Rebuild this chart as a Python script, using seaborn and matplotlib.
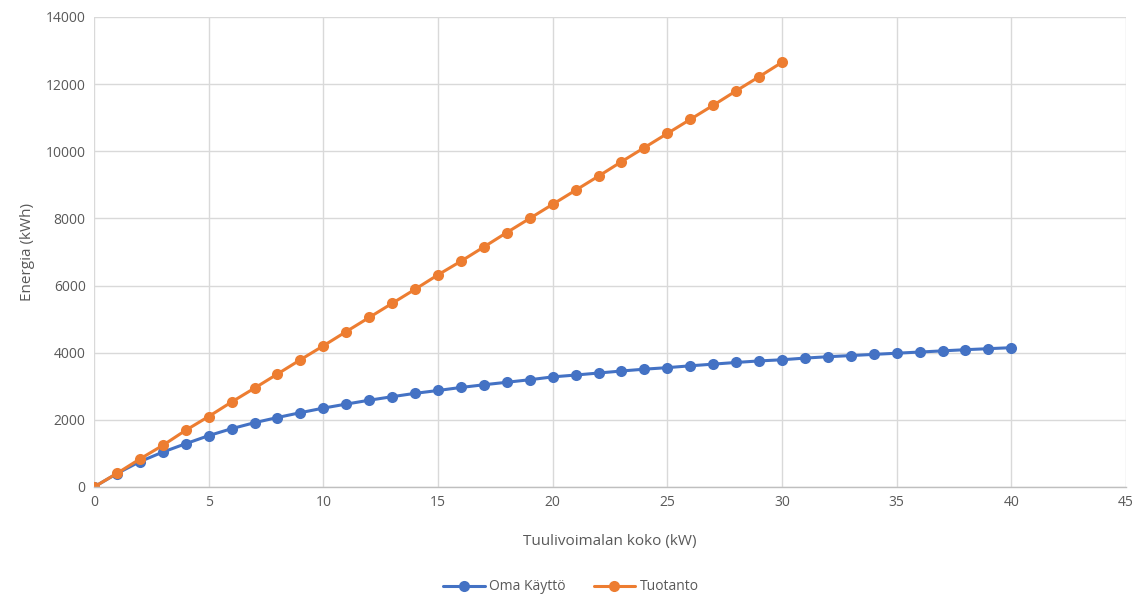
import numpy as np
import pandas as pd
import matplotlib
matplotlib.use("Agg")
import matplotlib.pyplot as plt
import seaborn as sns

# Data
oma_x = list(range(0, 41))
oma_kaytto = [0, 400, 755, 1040, 1290, 1530, 1737, 1916, 2070, 2214, 2350,
              2470, 2585, 2690, 2790, 2875, 2965, 3045, 3120, 3195, 3280,
              3335, 3395, 3455, 3510, 3555, 3610, 3660, 3710, 3755, 3790,
              3840, 3880, 3915, 3950, 3985, 4020, 4055, 4090, 4120, 4150]
tuot_x = list(range(0, 31))
tuotanto = [0, 405, 834, 1240, 1690, 2100, 2532, 2945, 3366, 3790, 4205,
            4630, 5050, 5470, 5890, 6320, 6725, 7150, 7580, 8000, 8420,
            8840, 9260, 9690, 10110, 10530, 10950, 11370, 11800, 12220, 12650]
series_names = ["Oma Käyttö", "Tuotanto"]
colors = ["#4472C4", "#ED7D31"]
xticks = list(range(0, 50, 5))
yticks = list(range(0, 16000, 2000))

df = pd.concat([
    pd.DataFrame({"x": oma_x, "y": oma_kaytto, "s": series_names[0]}),
    pd.DataFrame({"x": tuot_x, "y": tuotanto, "s": series_names[1]}),
])

sns.set_theme(style="white")
plt.rcParams["font.family"] = ["Open Sans", "DejaVu Sans"]

fig = plt.figure(figsize=(11.35, 5.97), dpi=100)
ax = fig.add_axes([94 / 1135, 1 - 487 / 597, (1126 - 94) / 1135, (487 - 17) / 597])

sns.lineplot(data=df, x="x", y="y", hue="s", palette=dict(zip(series_names, colors)),
             marker="o", markersize=8, markeredgewidth=0, linewidth=2.2, ax=ax,
             legend=True)

ax.set_xlim(0, 45)
ax.set_ylim(0, 14000)
ax.set_xticks(xticks)
ax.set_yticks(yticks)
ax.grid(True, color="#d9d9d9", linewidth=1)
ax.set_axisbelow(True)
for s in ["top", "right", "left"]:
    ax.spines[s].set_visible(False)
ax.spines["bottom"].set_color("#bfbfbf")
ax.spines["bottom"].set_linewidth(1)
ax.tick_params(axis="both", length=0, labelsize=10, colors="#595959", pad=6)
ax.set_xlabel("Tuulivoimalan koko (kW)", fontsize=11, color="#595959", labelpad=17)
ax.set_ylabel("Energia (kWh)", fontsize=11, color="#595959", labelpad=8)

handles, labels = ax.get_legend_handles_labels()
ax.get_legend().remove()
fig.legend(handles, labels, loc="center", bbox_to_anchor=(0.503, 1 - 587 / 597), ncol=2,
           frameon=False, fontsize=10, labelcolor="#595959", handlelength=3,
           columnspacing=2, handletextpad=0.3)

fig.savefig("out.png", dpi=100)
